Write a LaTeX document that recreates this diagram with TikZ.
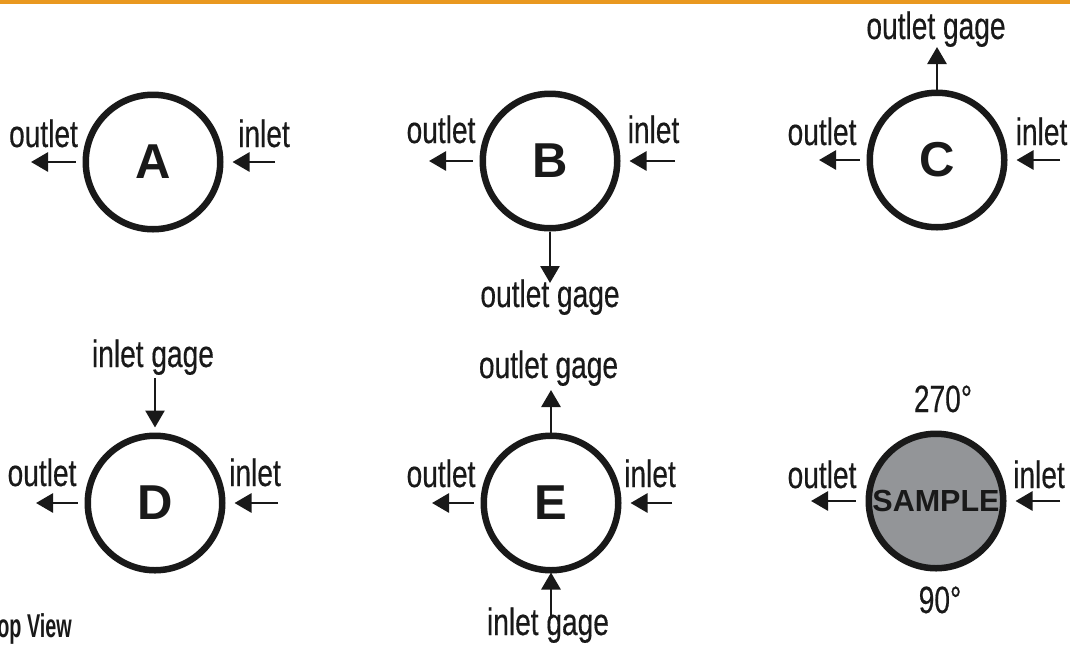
\documentclass[tikz,border=0pt]{standalone}
\usepackage{fontspec}
\setmainfont{Liberation Sans}
\newfontfamily\cond[FakeStretch=0.74,FakeBold=0.4]{Liberation Sans}
\newfontfamily\condb[FakeStretch=0.6]{Liberation Sans Bold}
\usetikzlibrary{arrows.meta}
\definecolor{barorange}{RGB}{233,152,31}
\definecolor{samplegray}{RGB}{147,149,152}
\tikzset{
  port/.style={circle, draw=black!90, line width=6.5pt, minimum size=134.5pt, inner sep=0pt,
    font=\fontsize{49}{50}\selectfont\bfseries, text=black!90},
  lab/.style={inner sep=0pt, anchor=base, font=\cond\fontsize{38}{40}\selectfont, text=black!90},
  arr/.style={draw=black!90, line width=2.8pt, -{Triangle[length=17pt,width=19pt]}},
  outarr/.style={arr, shorten <=7pt},
  inarr/.style={arr, shorten >=9pt},
}
\begin{document}
\begin{tikzpicture}[x=1pt,y=-1pt]
\useasboundingbox (0,0) rectangle (1070,646);
\fill[barorange] (0,0) rectangle (1070,4);

% circles
\node[port] (A) at (153,162) {A};
\node[port] (B) at (550,161) {B};
\node[port] (C) at (937,160) {C};
\node[port] (D) at (155,503) {D};
\node[port] (E) at (551,503) {E};
\node[port, fill=samplegray, font=\fontsize{30.5}{32}\selectfont\bfseries] (S) at (936,501) {SAMPLE};

% free ends
\coordinate (Ao) at (31,162);  \coordinate (Ai) at (275,162);
\coordinate (Bo) at (429,161); \coordinate (Bi) at (675,161); \coordinate (Bg) at (550,283);
\coordinate (Co) at (819,160); \coordinate (Ci) at (1060,160); \coordinate (Cg) at (937,47);
\coordinate (Do) at (36,503);  \coordinate (Di) at (278,503); \coordinate (Dg) at (155,378);
\coordinate (Eo) at (432,503); \coordinate (Ei) at (672,503); \coordinate (Eg) at (551,390); \coordinate (Eb) at (551,618);
\coordinate (So) at (811,501); \coordinate (Si) at (1060,501);

% arrows
\draw[outarr] (A.west) -- (Ao);  \draw[inarr] (Ai) -- (A.east);
\draw[outarr] (B.west) -- (Bo);  \draw[inarr] (Bi) -- (B.east);
\draw[arr] (B.south) -- (Bg);
\draw[outarr] (C.west) -- (Co);  \draw[inarr] (Ci) -- (C.east);
\draw[arr] (C.north) -- (Cg);
\draw[outarr] (D.west) -- (Do);  \draw[inarr] (Di) -- (D.east);
\draw[arr, shorten >=5pt] (Dg) -- (D.north);
\draw[outarr] (E.west) -- (Eo);  \draw[inarr] (Ei) -- (E.east);
\draw[arr] (E.north) -- (Eg);
\draw[arr, shorten >=-1pt] (Eb) -- (E.south);
\draw[outarr, shorten <=10pt] (S.west) -- (So);  \draw[inarr] (Si) -- (S.east);

% labels
\node[lab] (Aol) at (43.5,147) {outlet};
\node[lab] (Ail) at (264,147) {inlet};
\node[lab] (Bol) at (441,143) {outlet};
\node[lab] (Bil) at (653.5,143) {inlet};
\node[lab] (Bgl) at (550,307) {outlet gage};
\node[lab] (Col) at (822,145) {outlet};
\node[lab] (Cil) at (1041.5,145) {inlet};
\node[lab] (Cgl) at (936,39) {outlet gage};
\node[lab] (Dol) at (42,486) {outlet};
\node[lab] (Dil) at (255,486) {inlet};
\node[lab] (Dgl) at (153,367) {inlet gage};
\node[lab] (Eol) at (441,487) {outlet};
\node[lab] (Eil) at (650,487) {inlet};
\node[lab] (Egl) at (548.5,378) {outlet gage};
\node[lab] (Ebl) at (548,635) {inlet gage};
\node[lab] (Sol) at (822,488) {outlet};
\node[lab] (Sil) at (1039,488) {inlet};
\node[lab] (Stl) at (943,412) {270°};
\node[lab] (Sbl) at (940,613) {90°};

\node[inner sep=0pt, anchor=base east, font=\condb\fontsize{33}{34}\selectfont, text=black!90] (tv) at (72,637) {Top View};
\end{tikzpicture}
\end{document}
